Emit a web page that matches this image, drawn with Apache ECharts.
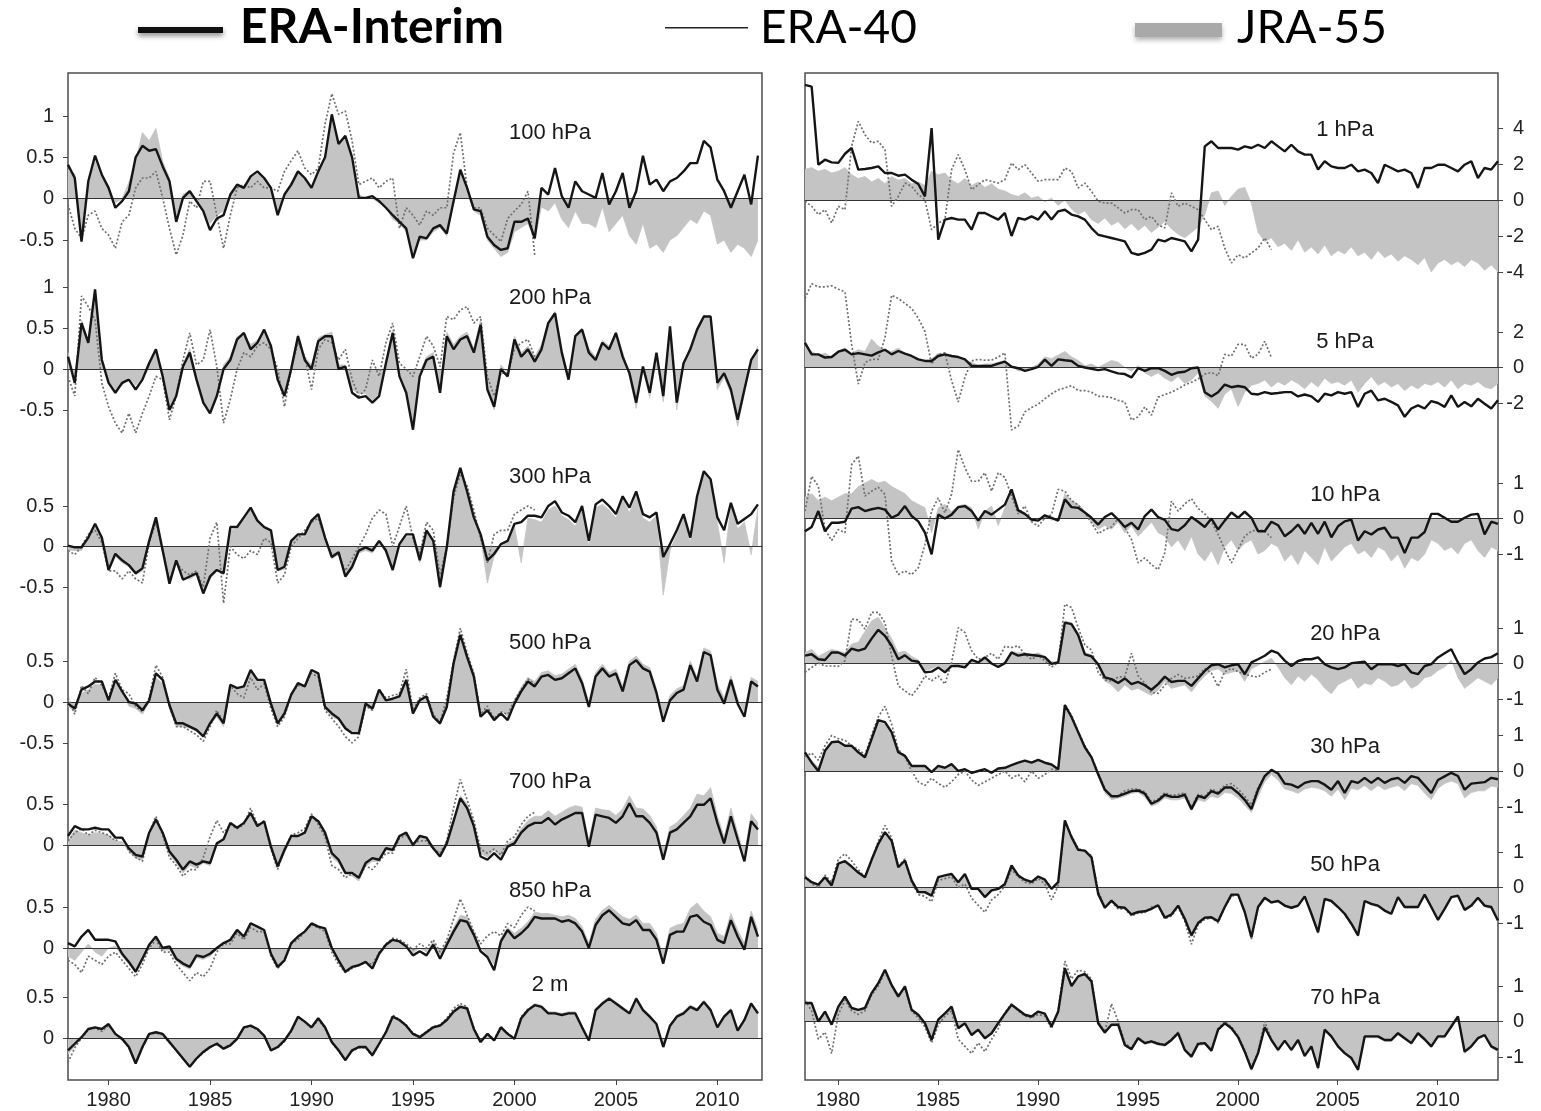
<!DOCTYPE html>
<html>
<head>
<meta charset="utf-8">
<title>Temperature anomalies: ERA-Interim, ERA-40, JRA-55</title>
<script src="https://cdn.jsdelivr.net/npm/echarts@6/dist/echarts.min.js"></script>
<style>
  html, body { margin: 0; padding: 0; background: #fff; }
  #chart { width: 1541px; height: 1111px; }
</style>
</head>
<body>
<div id="chart"></div>
<script>
// samples every 4 months
// left column (troposphere), first sample at 1978.0
var erai100 = [0.41,0.25,-0.52,0.21,0.52,0.29,0.13,-0.11,-0.03,0.09,0.5,0.64,0.58,0.6,0.39,0.21,-0.28,0.01,0.09,-0.03,-0.15,-0.38,-0.24,-0.2,0.05,0.17,0.13,0.27,0.33,0.25,0.13,-0.2,0.05,0.17,0.33,0.25,0.13,0.33,0.5,1.02,0.66,0.76,0.5,0.01,0.01,0.03,-0.03,-0.11,-0.2,-0.28,-0.36,-0.72,-0.46,-0.48,-0.36,-0.32,-0.42,-0.03,0.35,0.13,-0.13,-0.15,-0.46,-0.56,-0.62,-0.6,-0.28,-0.28,-0.24,-0.48,0.13,0.05,0.37,0.03,-0.11,0.21,0.09,0.05,0.01,0.31,-0.07,0.09,0.31,-0.11,0.09,0.52,0.17,0.23,0.09,0.21,0.25,0.33,0.43,0.43,0.7,0.62,0.23,0.09,-0.11,0.09,0.29,-0.07,0.52];
var jra100 = [0.35,0.3,-0.4,0.15,0.45,0.3,0.15,-0.05,0.0,0.2,0.45,0.8,0.7,0.85,0.45,0.25,-0.2,0.05,0.1,-0.05,-0.15,-0.3,-0.2,-0.15,0.05,0.15,0.15,0.25,0.3,0.25,0.15,-0.15,0.05,0.2,0.3,0.25,0.15,0.3,0.45,0.95,0.65,0.75,0.5,0.05,0.0,0.0,-0.05,-0.1,-0.25,-0.3,-0.4,-0.65,-0.5,-0.5,-0.4,-0.35,-0.45,-0.05,0.3,0.1,-0.15,-0.2,-0.5,-0.6,-0.7,-0.65,-0.4,-0.35,-0.3,-0.5,-0.1,-0.15,-0.05,-0.25,-0.35,-0.15,-0.3,-0.3,-0.35,-0.1,-0.4,-0.3,-0.2,-0.45,-0.55,-0.3,-0.6,-0.55,-0.65,-0.5,-0.45,-0.35,-0.25,-0.3,-0.15,-0.2,-0.55,-0.5,-0.65,-0.55,-0.6,-0.7,-0.5];
var era40_100 = [-0.07,-0.36,-0.48,-0.2,-0.15,-0.36,-0.44,-0.6,-0.28,-0.2,0.13,0.25,0.25,0.33,0.01,-0.36,-0.68,-0.44,-0.03,-0.11,0.21,0.21,-0.2,-0.6,-0.2,0.13,0.17,0.13,0.21,0.13,0.13,0.09,0.33,0.46,0.58,0.37,0.29,0.37,0.9,1.27,1.02,1.06,0.7,0.17,0.21,0.25,0.13,0.21,0.25,-0.36,-0.11,-0.2,-0.32,-0.15,-0.2,-0.11,-0.11,0.55,0.8,0.13,-0.11,-0.11,-0.36,-0.44,-0.52,-0.24,-0.15,-0.07,0.09,-0.68];

var erai200 = [0.15,-0.17,0.56,0.32,0.97,0.11,-0.17,-0.29,-0.17,-0.13,-0.25,-0.13,0.07,0.24,-0.09,-0.5,-0.33,0.03,0.2,-0.13,-0.41,-0.54,-0.33,0.0,0.11,0.36,0.44,0.24,0.32,0.48,0.28,-0.13,-0.33,0.0,0.4,0.11,0.0,0.34,0.4,0.4,0.0,0.03,-0.29,-0.35,-0.33,-0.41,-0.33,0.07,0.44,-0.09,-0.29,-0.74,-0.09,0.11,0.15,-0.29,0.4,0.24,0.36,0.4,0.2,0.54,-0.25,-0.46,0.0,-0.09,0.36,0.15,0.24,0.09,0.24,0.56,0.68,0.2,-0.13,0.4,0.48,0.2,0.11,0.32,0.24,0.44,0.15,-0.05,-0.41,0.03,-0.29,0.2,-0.33,0.52,-0.41,0.07,0.24,0.48,0.64,0.64,-0.17,-0.05,-0.25,-0.62,-0.25,0.11,0.24];
var jra200 = [0.2,-0.1,0.6,0.35,0.9,0.15,-0.15,-0.25,-0.2,-0.1,-0.2,-0.1,0.1,0.2,-0.05,-0.45,-0.3,0.05,0.25,-0.1,-0.4,-0.5,-0.3,0.05,0.15,0.4,0.4,0.3,0.35,0.45,0.3,-0.1,-0.3,0.05,0.42,0.15,0.05,0.38,0.42,0.45,0.05,0.05,-0.25,-0.3,-0.3,-0.38,-0.3,0.1,0.48,-0.05,-0.25,-0.7,-0.05,0.15,0.2,-0.25,0.45,0.3,0.4,0.45,0.25,0.6,-0.2,-0.5,0.05,-0.05,0.4,0.2,0.28,0.15,0.3,0.58,0.7,0.25,-0.1,0.42,0.5,0.25,0.15,0.35,0.28,0.45,0.2,-0.1,-0.48,0.0,-0.35,0.15,-0.4,0.48,-0.5,0.05,0.28,0.5,0.66,0.6,-0.25,-0.1,-0.3,-0.7,-0.3,0.1,0.28];
var era40_200 = [-0.09,-0.33,0.89,0.76,0.6,-0.17,-0.46,-0.66,-0.78,-0.54,-0.78,-0.54,-0.33,-0.09,-0.13,-0.62,-0.33,0.11,0.44,0.05,0.11,0.48,0.03,-0.66,-0.37,0.0,0.2,0.15,0.28,0.32,0.24,0.0,-0.46,0.0,0.32,0.15,-0.25,0.24,0.36,0.32,0.11,0.24,-0.13,-0.33,-0.25,0.11,-0.09,0.32,0.56,0.07,0.0,-0.09,0.15,0.4,0.28,0.03,0.64,0.6,0.72,0.76,0.56,0.64,-0.09,-0.33,-0.05,-0.05,0.24,0.32,0.36,0.15];

var erai300 = [0.01,-0.01,-0.01,0.11,0.28,0.11,-0.29,-0.09,-0.17,-0.23,-0.33,-0.27,0.07,0.36,-0.05,-0.46,-0.17,-0.41,-0.37,-0.33,-0.58,-0.37,-0.29,-0.33,0.24,0.24,0.36,0.48,0.32,0.24,0.2,-0.29,-0.25,0.07,0.15,0.15,0.32,0.4,0.11,-0.13,-0.07,-0.37,-0.25,-0.05,-0.01,-0.05,0.07,-0.05,-0.29,0.03,0.15,0.15,-0.17,0.2,0.07,-0.5,-0.01,0.68,0.97,0.68,0.36,0.15,-0.17,-0.09,0.03,0.07,0.28,0.3,0.38,0.38,0.36,0.5,0.56,0.42,0.38,0.3,0.5,0.07,0.52,0.58,0.5,0.4,0.62,0.48,0.68,0.4,0.36,0.42,-0.13,0.03,0.2,0.4,0.11,0.62,0.93,0.83,0.36,0.2,0.54,0.28,0.34,0.4,0.52];
var jra300 = [-0.05,-0.05,-0.05,0.1,0.25,0.1,-0.3,-0.12,-0.2,-0.25,-0.35,-0.3,0.05,0.35,-0.08,-0.45,-0.2,-0.4,-0.4,-0.35,-0.55,-0.4,-0.3,-0.35,0.2,0.22,0.33,0.45,0.3,0.22,0.18,-0.3,-0.28,0.05,0.12,0.12,0.3,0.38,0.1,-0.15,-0.1,-0.38,-0.28,-0.08,-0.05,-0.08,0.05,-0.08,-0.3,0.0,0.12,0.12,-0.2,0.18,0.05,-0.52,-0.05,0.65,0.95,0.65,0.33,0.12,-0.45,-0.12,0.0,0.05,0.25,-0.2,0.35,0.33,0.3,0.45,0.5,0.38,0.33,0.25,0.45,0.0,0.48,0.52,0.45,0.35,0.58,0.42,0.62,0.35,0.3,0.38,-0.6,-0.05,0.15,0.35,0.05,0.58,0.9,0.8,0.3,-0.2,0.5,0.22,0.3,-0.1,0.48];
var era40_300 = [-0.05,-0.1,0.0,0.15,0.2,0.05,-0.3,-0.3,-0.4,-0.3,-0.4,-0.45,0.05,0.3,-0.05,-0.4,-0.2,-0.3,-0.35,-0.3,-0.5,0.1,0.3,-0.7,0.0,-0.1,-0.15,-0.05,-0.1,0.1,0.05,-0.45,-0.35,0.0,0.1,0.2,0.3,0.35,0.1,-0.1,-0.1,-0.3,-0.15,0.0,0.15,0.35,0.45,0.4,0.0,0.25,0.5,0.1,-0.1,0.3,0.2,-0.35,0.0,0.6,0.9,0.75,0.45,0.1,-0.2,0.15,0.2,0.2,0.4,0.45,0.5,0.45];

var erai500 = [-0.02,-0.08,0.15,0.19,0.25,0.25,0.02,0.27,0.13,0.0,-0.02,-0.1,0.02,0.35,0.27,-0.04,-0.26,-0.26,-0.3,-0.34,-0.42,-0.26,-0.14,-0.26,0.21,0.17,0.19,0.39,0.27,0.27,-0.02,-0.26,-0.14,0.09,0.23,0.19,0.39,0.35,-0.06,-0.14,-0.2,-0.32,-0.38,-0.38,-0.02,-0.08,0.15,0.02,0.04,0.07,0.27,-0.14,0.02,0.07,-0.18,-0.26,-0.06,0.47,0.82,0.55,0.31,-0.18,-0.1,-0.22,-0.14,-0.22,-0.02,0.13,0.25,0.19,0.31,0.33,0.27,0.29,0.35,0.41,0.23,-0.06,0.31,0.41,0.31,0.35,0.13,0.45,0.51,0.41,0.37,0.11,-0.24,0.02,0.11,0.15,0.45,0.25,0.61,0.57,0.15,-0.02,0.27,-0.02,-0.18,0.25,0.19];
var jra500 = [-0.05,-0.12,0.1,0.15,0.22,0.2,0.0,0.22,0.1,-0.05,-0.08,-0.15,0.0,0.3,0.22,-0.08,-0.3,-0.3,-0.32,-0.36,-0.4,-0.28,-0.18,-0.3,0.18,0.15,0.18,0.36,0.25,0.25,-0.05,-0.28,-0.15,0.08,0.22,0.18,0.36,0.33,-0.08,-0.18,-0.22,-0.34,-0.36,-0.4,-0.05,-0.1,0.12,0.0,0.02,0.05,0.25,-0.15,0.0,0.05,-0.2,-0.28,-0.08,0.5,0.8,0.58,0.35,-0.15,-0.08,-0.2,-0.1,-0.18,0.02,0.18,0.3,0.25,0.36,0.38,0.32,0.34,0.4,0.46,0.28,0.0,0.36,0.46,0.36,0.4,0.2,0.5,0.56,0.46,0.42,0.16,-0.18,0.08,0.16,0.2,0.5,0.3,0.66,0.62,0.22,0.05,0.32,0.04,-0.12,0.3,0.25];
var era40_500 = [0.05,-0.15,0.2,0.1,0.3,0.2,0.05,0.35,0.15,0.1,-0.05,-0.12,0.05,0.45,0.3,-0.05,-0.3,-0.3,-0.35,-0.4,-0.48,-0.3,-0.1,-0.25,0.2,0.1,0.05,0.3,0.15,0.22,-0.08,-0.3,-0.18,0.1,0.2,0.2,0.35,0.3,-0.1,-0.2,-0.3,-0.42,-0.5,-0.42,-0.05,-0.1,0.15,0.05,0.08,0.1,0.4,-0.1,0.05,0.1,-0.15,-0.25,0.05,0.5,0.9,0.6,0.35,-0.15,-0.05,-0.2,-0.12,-0.15,0.02,0.15,0.28,0.22];

var erai700 = [0.11,0.23,0.19,0.19,0.21,0.19,0.19,0.09,0.09,-0.04,-0.12,-0.14,0.15,0.31,0.15,-0.08,-0.18,-0.3,-0.2,-0.24,-0.2,-0.22,0.02,0.07,0.27,0.21,0.27,0.39,0.23,0.29,-0.02,-0.26,-0.06,0.11,0.11,0.15,0.35,0.29,0.15,-0.1,-0.18,-0.34,-0.34,-0.4,-0.22,-0.16,-0.18,-0.04,-0.06,0.11,0.15,0.0,0.11,0.09,-0.04,-0.14,0.02,0.29,0.57,0.45,0.23,-0.14,-0.18,-0.1,-0.18,-0.02,0.02,0.15,0.23,0.27,0.27,0.33,0.25,0.31,0.35,0.39,0.39,-0.02,0.37,0.35,0.33,0.27,0.35,0.51,0.35,0.35,0.27,0.15,-0.18,0.15,0.19,0.27,0.35,0.49,0.49,0.57,0.27,0.02,0.35,0.07,-0.2,0.29,0.19];
var jra700 = [0.05,0.18,0.15,0.12,0.15,0.14,0.12,0.05,0.04,-0.08,-0.16,-0.18,0.1,0.28,0.12,-0.12,-0.22,-0.34,-0.25,-0.28,-0.22,-0.25,0.0,0.05,0.25,0.2,0.25,0.36,0.22,0.27,-0.05,-0.28,-0.1,0.08,0.1,0.14,0.33,0.27,0.12,-0.15,-0.22,-0.36,-0.38,-0.44,-0.26,-0.2,-0.2,-0.06,-0.08,0.1,0.14,-0.02,0.1,0.1,-0.02,-0.12,0.05,0.32,0.6,0.5,0.28,-0.1,-0.15,-0.06,-0.14,0.02,0.06,0.2,0.3,0.35,0.35,0.42,0.35,0.4,0.45,0.48,0.46,0.05,0.45,0.43,0.42,0.36,0.44,0.6,0.45,0.44,0.36,0.22,-0.12,0.22,0.27,0.36,0.45,0.62,0.6,0.7,0.36,0.1,0.45,0.15,-0.12,0.38,0.27];
var era40_700 = [0.05,0.15,0.2,0.12,0.18,0.15,0.12,0.05,0.1,-0.08,-0.15,-0.2,0.15,0.35,0.12,-0.15,-0.25,-0.38,-0.3,-0.3,-0.15,0.1,0.3,0.15,0.25,0.2,0.25,0.45,0.25,0.28,-0.05,-0.3,-0.05,0.12,0.15,0.2,0.38,0.25,0.1,-0.25,-0.3,-0.4,-0.35,-0.4,-0.25,-0.3,-0.2,-0.1,-0.1,0.08,0.12,0.02,0.05,0.05,-0.05,-0.1,0.05,0.45,0.8,0.55,0.3,-0.05,-0.1,-0.05,-0.12,0.05,0.1,0.25,0.35,0.4];

var erai850 = [0.06,0.02,0.14,0.22,0.1,0.1,0.1,0.08,-0.07,-0.17,-0.29,-0.13,0.04,0.14,0.0,0.02,-0.13,-0.19,-0.23,-0.09,-0.11,-0.07,0.0,0.06,0.1,0.22,0.14,0.3,0.26,0.22,-0.07,-0.23,-0.15,0.06,0.14,0.2,0.3,0.26,0.24,0.0,-0.15,-0.29,-0.23,-0.21,-0.17,-0.25,-0.07,0.04,0.1,0.08,0.02,-0.09,-0.04,-0.09,0.04,-0.13,0.04,0.2,0.34,0.32,0.16,-0.04,-0.11,-0.27,0.08,0.22,0.12,0.18,0.26,0.38,0.36,0.36,0.36,0.32,0.34,0.3,0.2,0.0,0.28,0.4,0.46,0.38,0.3,0.28,0.34,0.22,0.22,0.1,-0.19,0.16,0.2,0.2,0.38,0.4,0.32,0.28,0.1,0.06,0.34,0.14,-0.02,0.38,0.14];
var jra850 = [-0.1,-0.15,-0.05,0.05,-0.05,-0.1,0.0,0.02,-0.1,-0.2,-0.3,-0.15,0.0,0.1,-0.03,-0.02,-0.16,-0.22,-0.26,-0.12,-0.14,-0.1,-0.02,0.03,0.08,0.2,0.12,0.27,0.24,0.2,-0.08,-0.25,-0.17,0.04,0.12,0.18,0.28,0.25,0.22,-0.02,-0.17,-0.3,-0.25,-0.22,-0.18,-0.26,-0.08,0.03,0.1,0.08,0.04,-0.06,0.0,-0.05,0.08,-0.08,0.08,0.25,0.4,0.38,0.2,0.0,-0.08,-0.2,0.12,0.25,0.18,0.24,0.32,0.44,0.42,0.42,0.4,0.38,0.4,0.36,0.26,0.06,0.35,0.46,0.52,0.45,0.38,0.35,0.4,0.3,0.3,0.18,-0.12,0.24,0.28,0.3,0.48,0.55,0.45,0.38,0.18,0.14,0.42,0.22,0.06,0.45,0.22];
var era40_850 = [-0.15,-0.2,-0.3,-0.1,-0.15,-0.2,-0.1,-0.05,-0.15,-0.25,-0.35,-0.2,0.0,0.1,-0.05,-0.05,-0.2,-0.3,-0.4,-0.3,-0.35,-0.25,-0.05,0.05,0.05,0.18,0.1,0.25,0.2,0.2,-0.1,-0.25,-0.15,0.05,0.1,0.2,0.28,0.25,0.2,-0.05,-0.2,-0.3,-0.25,-0.2,-0.18,-0.2,-0.05,0.05,0.12,0.1,0.05,-0.02,0.05,0.0,0.1,-0.05,0.1,0.35,0.6,0.4,0.2,0.05,0.15,0.2,0.15,0.3,0.25,0.4,0.5,0.45];

var erai2m = [-0.15,-0.07,0.01,0.11,0.13,0.11,0.17,0.05,-0.01,-0.11,-0.31,-0.11,0.05,0.07,0.05,-0.05,-0.15,-0.25,-0.35,-0.25,-0.17,-0.11,-0.07,-0.13,-0.09,-0.01,0.13,0.15,0.11,0.03,-0.15,-0.11,-0.03,0.09,0.26,0.2,0.13,0.24,0.13,-0.05,-0.15,-0.27,-0.15,-0.11,-0.11,-0.21,-0.07,0.07,0.26,0.22,0.15,0.05,0.01,0.07,0.13,0.15,0.22,0.32,0.38,0.36,0.11,-0.05,0.05,-0.03,0.13,0.05,-0.01,0.24,0.34,0.4,0.38,0.3,0.3,0.28,0.3,0.3,0.13,-0.03,0.34,0.42,0.48,0.42,0.36,0.3,0.48,0.34,0.26,0.17,-0.11,0.15,0.26,0.3,0.38,0.34,0.44,0.34,0.13,0.26,0.34,0.09,0.22,0.42,0.3];
var jra2m = [-0.2,-0.1,0.0,0.1,0.12,0.1,0.15,0.04,-0.03,-0.12,-0.3,-0.12,0.04,0.06,0.04,-0.06,-0.16,-0.26,-0.34,-0.26,-0.18,-0.12,-0.08,-0.14,-0.1,-0.02,0.12,0.14,0.1,0.02,-0.16,-0.12,-0.04,0.08,0.25,0.2,0.12,0.23,0.12,-0.06,-0.16,-0.28,-0.16,-0.12,-0.12,-0.22,-0.08,0.06,0.27,0.23,0.16,0.06,0.02,0.08,0.14,0.16,0.23,0.34,0.4,0.38,0.12,-0.04,0.06,-0.02,0.14,0.06,0.0,0.25,0.35,0.42,0.4,0.32,0.32,0.3,0.32,0.32,0.15,-0.02,0.36,0.44,0.5,0.44,0.38,0.32,0.5,0.36,0.28,0.18,-0.1,0.16,0.28,0.32,0.4,0.36,0.46,0.36,0.15,0.28,0.36,0.1,0.24,0.44,0.32];
var era40_2m = [-0.3,-0.12,0.0,0.1,0.12,0.08,0.15,0.05,-0.02,-0.12,-0.3,-0.12,0.05,0.06,0.04,-0.06,-0.15,-0.25,-0.35,-0.25,-0.18,-0.12,-0.06,-0.12,-0.08,0.0,0.12,0.14,0.1,0.02,-0.15,-0.12,-0.04,0.08,0.25,0.2,0.12,0.22,0.12,-0.06,-0.16,-0.27,-0.16,-0.12,-0.12,-0.22,-0.08,0.08,0.28,0.22,0.16,0.06,0.02,0.08,0.14,0.16,0.24,0.36,0.42,0.38,0.12,-0.04,0.06,-0.02,0.14,0.06,0.0,0.26,0.35,0.4];

// right column (stratosphere), first sample at 1978.35
var erai1 = [6.4,6.3,1.96,2.24,2.09,2.06,2.57,2.89,1.69,1.72,1.78,1.87,1.5,1.5,1.35,1.41,1.13,0.89,0.2,4.0,-2.2,-1.09,-1.0,-1.09,-1.09,-1.65,-0.72,-0.72,-0.91,-1.09,-0.72,-2.0,-1.0,-1.09,-0.91,-1.09,-0.63,-1.09,-0.63,-0.54,-0.81,-0.91,-1.09,-1.56,-1.93,-2.02,-2.11,-2.2,-2.3,-2.94,-3.04,-2.94,-2.76,-2.2,-2.3,-2.11,-2.2,-2.3,-2.85,-2.2,2.98,3.26,2.89,2.89,2.89,2.8,2.98,2.89,3.07,2.89,3.26,2.98,2.7,3.07,2.7,2.52,2.52,1.69,2.15,1.87,1.78,1.78,1.96,1.59,1.69,1.5,0.94,1.96,1.78,1.59,1.69,1.5,0.67,1.78,1.78,1.96,1.96,1.78,1.59,1.96,2.15,1.22,1.78,1.69,2.15];
var jra1 = [1.7,1.8,1.6,1.7,1.5,1.6,1.8,1.4,1.2,1.3,1.0,1.2,0.9,1.3,1.1,1.2,0.9,1.0,0.8,1.6,1.4,1.5,1.1,0.9,1.2,0.8,1.0,0.7,0.9,0.6,0.5,0.3,0.2,0.4,0.1,0.2,-0.1,0.1,-0.3,0.0,-0.5,-0.8,-0.6,-1.1,-1.3,-1.0,-1.4,-1.2,-1.6,-1.3,-1.7,-1.4,-1.8,-1.5,-1.2,-1.6,-1.9,-2.1,-1.8,-1.5,-0.8,0.4,0.5,-0.3,0.2,0.6,0.7,-0.2,-1.8,-2.3,-2.1,-2.6,-2.4,-2.8,-2.2,-2.9,-2.6,-3.0,-2.5,-3.1,-2.8,-3.0,-2.6,-3.1,-2.9,-3.3,-2.8,-3.2,-3.0,-3.4,-3.1,-3.3,-3.6,-3.2,-4.0,-3.5,-3.3,-3.6,-3.4,-3.7,-3.3,-3.5,-3.9,-3.6,-4.0];
var era40_1 = [-0.07,-0.35,-0.81,-0.54,-1.28,-0.35,-0.54,2.98,4.37,3.63,3.17,3.26,2.8,-0.35,0.2,0.94,0.76,0.3,0.02,-1.65,-1.28,-1.09,1.69,2.52,1.69,0.57,0.85,1.13,1.04,0.94,1.13,2.06,1.69,1.96,1.5,1.04,1.13,1.13,1.13,1.78,1.59,0.67,0.94,0.48,-0.07,-0.17,-0.17,-0.44,-0.72,-0.54,-0.54,-1.09,-0.91,-1.37,-1.56,0.39,-0.35,-0.17,-0.35,-0.54,-1.09,-1.65,-1.46,-2.67,-3.5,-3.04,-3.22,-2.94,-2.67,-2.11,-2.76];

var erai5 = [1.39,0.74,0.74,0.56,0.59,0.89,1.0,0.74,0.81,0.74,0.67,0.85,1.0,0.74,0.93,0.78,0.65,0.46,0.37,0.37,0.65,0.74,0.65,0.59,0.46,0.09,0.09,0.09,0.09,0.22,0.33,0.04,-0.04,-0.19,-0.09,0.04,0.44,0.09,0.46,0.41,0.37,0.09,0.0,-0.07,-0.15,-0.09,-0.22,-0.33,-0.37,-0.56,-0.04,-0.19,-0.04,-0.04,-0.19,-0.41,-0.28,-0.24,-0.04,0.0,-1.39,-1.63,-1.39,-0.96,-1.11,-1.04,-1.11,-1.48,-1.52,-1.39,-1.48,-1.44,-1.39,-1.39,-1.63,-1.52,-1.63,-1.94,-1.48,-1.57,-1.39,-1.48,-1.39,-2.22,-1.48,-1.3,-1.85,-1.76,-1.94,-2.13,-2.78,-2.31,-2.13,-2.31,-1.89,-2.0,-2.22,-1.57,-2.22,-1.94,-2.19,-1.76,-2.04,-2.31,-1.85];
var jra5 = [1.2,0.9,0.7,0.8,0.6,0.9,1.1,0.8,1.0,0.9,1.6,1.2,1.0,0.9,1.1,0.8,0.6,0.5,0.3,0.5,0.8,0.6,0.7,0.5,0.4,0.3,0.1,0.2,0.2,0.3,0.4,0.1,-0.2,-0.1,0.0,0.2,0.6,0.5,0.7,0.9,0.6,0.4,0.1,0.2,0.0,0.2,0.4,0.3,0.0,-0.2,0.1,-0.3,-0.5,-0.3,-0.6,-0.8,-0.5,-0.9,-0.7,-0.3,-1.6,-1.9,-2.3,-1.5,-1.2,-2.2,-1.4,-1.0,-0.9,-0.7,-1.1,-0.8,-1.0,-0.7,-0.9,-1.2,-0.8,-1.1,-0.6,-0.9,-0.8,-1.0,-0.7,-1.4,-0.9,-0.5,-1.0,-0.8,-1.1,-0.9,-1.3,-1.0,-1.2,-0.9,-1.0,-0.8,-1.1,-0.7,-1.2,-0.9,-1.0,-0.8,-1.1,-1.2,-0.9];
var era40_5 = [3.89,4.72,4.54,4.54,4.6,4.41,4.26,1.3,-0.93,0.28,0.46,0.46,1.67,4.07,3.89,3.61,3.33,2.78,2.04,0.19,0.74,0.83,-0.74,-1.94,-0.56,0.37,0.46,0.41,0.41,0.59,0.83,-3.52,-3.3,-2.5,-2.26,-2.07,-1.76,-1.48,-1.26,-1.15,-1.02,-1.3,-1.3,-1.39,-1.63,-1.63,-1.7,-1.85,-1.94,-2.96,-2.78,-2.22,-2.69,-1.67,-1.52,-1.39,-1.2,-0.98,-0.83,-0.65,-0.37,-0.28,-0.46,0.74,0.65,1.3,1.3,0.52,0.74,1.48,0.56];

var erai10 = [-0.36,-0.24,0.21,-0.36,-0.12,-0.12,-0.09,0.28,0.32,0.21,0.26,0.3,0.25,0.02,0.11,0.35,0.07,-0.08,-0.4,-1.01,0.11,0.0,0.11,0.32,0.35,0.21,-0.06,0.21,0.11,0.25,0.39,0.82,0.23,0.13,-0.03,-0.06,0.09,0.02,-0.06,0.54,0.32,0.3,0.17,0.02,-0.17,0.04,0.15,-0.03,-0.24,-0.12,-0.31,0.07,0.25,0.04,-0.04,-0.3,-0.34,-0.19,0.04,-0.09,-0.24,0.0,-0.31,-0.06,0.17,0.02,0.19,0.02,-0.36,-0.36,-0.09,-0.19,-0.5,-0.36,-0.17,-0.43,-0.12,-0.43,-0.09,-0.53,-0.22,-0.08,-0.03,-0.62,-0.36,-0.45,-0.31,-0.26,-0.54,-0.54,-0.97,-0.54,-0.54,-0.38,0.13,0.13,0.02,-0.09,-0.09,0.02,0.11,0.13,-0.45,-0.09,-0.15];
var jra10 = [0.6,0.7,0.5,0.6,0.5,0.6,0.7,0.7,0.9,1.0,1.1,1.0,1.05,0.9,0.8,0.7,0.5,0.4,0.3,-0.4,0.3,0.4,0.2,0.35,0.4,0.3,-0.3,0.2,0.35,-0.2,0.3,0.7,0.2,0.1,-0.1,0.0,0.1,-0.05,0.0,0.7,0.5,0.4,0.2,-0.1,-0.3,-0.2,-0.3,-0.1,-0.4,-0.2,-0.5,-0.3,-0.1,-0.4,-0.5,-0.8,-0.6,-0.9,-0.5,-1.0,-1.2,-0.9,-1.3,-0.8,-0.6,-0.9,-0.7,-0.6,-1.0,-0.9,-0.7,-0.8,-1.2,-1.0,-1.3,-0.9,-1.1,-1.3,-0.8,-1.2,-1.0,-0.8,-0.7,-1.0,-0.9,-1.1,-0.8,-0.9,-1.2,-1.0,-1.4,-1.1,-1.2,-1.0,-0.6,-0.7,-0.9,-0.8,-1.0,-0.7,-0.6,-0.9,-1.1,-0.8,-0.9];
var era40_10 = [0.21,1.19,0.91,-0.31,-0.62,-0.31,-0.4,1.52,1.76,0.63,0.77,0.88,0.68,-1.2,-1.58,-1.48,-1.58,-1.39,-0.73,0.21,0.58,0.16,0.68,1.94,1.43,1.05,1.05,1.29,0.77,1.29,1.16,0.63,0.13,0.35,-0.09,-0.22,0.02,0.11,0.82,0.77,0.51,0.38,0.16,-0.12,-0.43,-0.31,-0.24,0.0,-0.26,-0.59,-1.25,-1.11,-1.3,-1.44,-0.97,0.49,0.21,0.41,0.56,0.28,0.13,-0.09,-0.45,-0.87,-1.25,-0.87,-0.5,-0.36,-0.31,-0.36,-0.54];

var erai20 = [0.22,0.26,0.12,0.1,0.31,0.31,0.22,0.42,0.36,0.42,0.7,0.95,0.78,0.5,0.12,0.23,0.08,0.05,-0.25,-0.23,-0.11,-0.25,-0.07,-0.07,-0.11,0.1,0.03,0.17,0.0,-0.1,0.01,0.31,0.22,0.26,0.24,0.22,0.18,-0.01,0.03,1.15,1.11,0.8,0.26,0.2,-0.02,-0.39,-0.44,-0.55,-0.42,-0.58,-0.52,-0.61,-0.74,-0.58,-0.37,-0.52,-0.49,-0.49,-0.63,-0.42,-0.21,-0.05,-0.02,-0.11,-0.05,-0.02,-0.3,0.03,0.12,0.22,0.36,0.29,0.08,-0.07,0.07,0.12,0.12,0.17,-0.02,-0.11,-0.16,-0.11,0.01,0.03,0.05,-0.16,-0.02,-0.02,-0.02,-0.07,-0.02,-0.25,-0.3,-0.07,-0.02,0.17,0.29,0.4,0.03,-0.3,-0.16,0.03,0.14,0.18,0.29];
var jra20 = [0.3,0.4,0.2,0.3,0.4,0.35,0.3,0.55,0.6,0.9,1.2,1.3,1.0,0.7,0.3,0.35,0.2,0.1,-0.2,-0.15,-0.05,-0.2,0.0,-0.05,-0.1,0.1,0.05,0.15,0.0,-0.1,0.05,0.35,0.3,0.3,0.25,0.3,0.2,0.05,0.05,1.2,1.15,0.85,0.3,0.25,-0.1,-0.5,-0.6,-0.8,-0.6,-0.75,-0.7,-0.8,-0.9,-0.75,-0.5,-0.7,-0.65,-0.6,-0.8,-0.55,-0.35,-0.2,-0.15,-0.3,-0.25,-0.2,-0.5,-0.15,-0.05,0.05,0.15,-0.1,-0.4,-0.6,-0.35,-0.5,-0.3,-0.45,-0.7,-0.85,-0.6,-0.5,-0.4,-0.7,-0.55,-0.6,-0.4,-0.5,-0.65,-0.6,-0.45,-0.7,-0.6,-0.4,-0.35,-0.2,-0.1,0.1,-0.4,-0.7,-0.55,-0.4,-0.5,-0.6,-0.4];
var era40_20 = [-0.25,-0.11,0.01,-0.07,-0.07,-0.08,0.08,1.25,1.23,0.97,1.44,1.44,1.15,0.22,-0.63,-0.77,-0.91,-0.68,-0.35,-0.49,-0.35,-0.58,0.03,1.01,0.87,0.36,0.12,0.17,0.29,0.12,0.48,0.45,0.5,0.26,0.12,0.23,0.08,-0.1,0.03,1.67,1.58,1.01,0.52,0.38,-0.25,-0.46,-0.5,-0.38,-0.37,0.29,-0.35,-0.55,-0.82,-0.84,-0.61,-0.42,-0.31,-0.42,-0.39,-0.35,-0.14,-0.27,-0.65,-0.23,-0.14,-0.23,-0.31,-0.35,-0.38,-0.25,-0.16];

var erai30 = [0.52,0.23,0.0,0.56,0.8,0.82,0.7,0.7,0.52,0.38,0.89,1.41,1.36,1.08,0.52,0.42,0.14,0.14,0.14,-0.03,0.14,0.09,0.19,0.0,0.05,-0.05,0.0,0.05,-0.05,0.07,0.09,0.16,0.23,0.29,0.23,0.31,0.23,0.18,0.05,1.83,1.5,1.08,0.66,0.38,-0.09,-0.52,-0.7,-0.7,-0.63,-0.56,-0.54,-0.63,-0.91,-0.82,-0.66,-0.72,-0.72,-0.66,-1.06,-0.69,-0.75,-0.56,-0.63,-0.46,-0.46,-0.61,-0.8,-1.06,-0.52,-0.14,0.03,-0.07,-0.35,-0.38,-0.46,-0.33,-0.28,-0.28,-0.38,-0.52,-0.28,-0.61,-0.28,-0.33,-0.19,-0.33,-0.19,-0.33,-0.23,-0.19,-0.33,-0.14,-0.19,-0.4,-0.61,-0.25,-0.15,-0.05,-0.14,-0.52,-0.35,-0.33,-0.31,-0.19,-0.23];
var jra30 = [0.45,0.3,0.1,0.5,0.75,0.78,0.72,0.65,0.5,0.4,0.85,1.35,1.3,1.05,0.55,0.45,0.15,0.1,0.12,0.0,0.12,0.05,0.15,-0.02,0.02,-0.08,-0.02,0.02,-0.06,0.05,0.08,0.15,0.2,0.25,0.2,0.28,0.2,0.15,0.02,1.8,1.45,1.05,0.62,0.35,-0.15,-0.6,-0.8,-0.75,-0.7,-0.62,-0.6,-0.72,-0.98,-0.9,-0.75,-0.8,-0.8,-0.75,-1.1,-0.8,-0.85,-0.7,-0.75,-0.6,-0.62,-0.75,-0.95,-1.15,-0.7,-0.3,-0.1,-0.25,-0.5,-0.55,-0.62,-0.5,-0.45,-0.48,-0.55,-0.7,-0.5,-0.8,-0.48,-0.52,-0.4,-0.55,-0.4,-0.52,-0.45,-0.4,-0.55,-0.35,-0.4,-0.62,-0.8,-0.48,-0.35,-0.28,-0.35,-0.75,-0.6,-0.55,-0.55,-0.42,-0.45];
var era40_30 = [0.4,0.5,0.3,0.7,0.99,0.9,0.85,0.7,0.6,0.45,1.0,1.5,1.8,1.3,0.6,0.4,0.0,-0.3,-0.4,-0.2,-0.35,-0.45,-0.3,-0.1,0.0,-0.25,-0.4,-0.3,-0.2,-0.1,0.0,-0.2,-0.1,-0.3,0.0,-0.2,-0.1,0.05,0.0,1.85,1.55,1.1,0.7,0.4,-0.05,-0.5,-0.72,-0.68,-0.55,-0.5,-0.5,-0.58,-0.85,-0.78,-0.6,-0.68,-0.65,-0.6,-1.0,-0.65,-0.7,-0.5,-0.58,-0.4,-0.35,-0.5,-0.7,-0.95,-0.45,-0.15,0.0];

var erai50 = [0.29,0.15,0.08,0.29,0.06,0.67,0.74,0.59,0.42,0.29,0.78,1.23,1.56,1.32,0.57,0.76,0.2,-0.13,-0.13,-0.23,0.29,0.34,0.38,0.15,0.38,-0.04,-0.04,-0.27,-0.08,-0.04,0.1,0.62,0.34,0.22,0.16,0.31,0.22,-0.04,0.15,1.89,1.42,1.06,1.04,0.85,-0.18,-0.57,-0.37,-0.55,-0.57,-0.76,-0.69,-0.67,-0.6,-0.5,-0.85,-0.76,-0.51,-0.88,-1.35,-1.0,-0.85,-0.84,-0.95,-0.55,-0.2,-0.2,-0.69,-1.4,-0.55,-0.29,-0.42,-0.38,-0.51,-0.57,-0.51,-0.25,-0.74,-1.26,-0.32,-0.38,-0.55,-0.74,-1.02,-1.35,-0.38,-0.46,-0.51,-0.65,-0.74,-0.27,-0.55,-0.55,-0.55,-0.2,-0.55,-0.91,-0.6,-0.27,-0.23,-0.63,-0.51,-0.29,-0.51,-0.55,-0.93];
var jra50 = [0.25,0.12,0.05,0.25,0.02,0.62,0.7,0.55,0.4,0.25,0.75,1.2,1.5,1.3,0.55,0.72,0.18,-0.15,-0.16,-0.25,0.25,0.3,0.35,0.12,0.35,-0.06,-0.06,-0.3,-0.1,-0.06,0.08,0.6,0.32,0.2,0.14,0.28,0.2,-0.06,0.12,1.85,1.4,1.04,1.02,0.82,-0.2,-0.6,-0.4,-0.58,-0.6,-0.8,-0.72,-0.7,-0.63,-0.53,-0.88,-0.8,-0.55,-0.92,-1.4,-1.05,-0.88,-0.88,-0.98,-0.58,-0.22,-0.22,-0.72,-1.45,-0.58,-0.32,-0.45,-0.4,-0.55,-0.6,-0.55,-0.28,-0.78,-1.3,-0.35,-0.4,-0.58,-0.78,-1.05,-1.38,-0.4,-0.5,-0.55,-0.68,-0.78,-0.3,-0.58,-0.58,-0.58,-0.22,-0.58,-0.95,-0.62,-0.3,-0.26,-0.66,-0.55,-0.32,-0.55,-0.6,-0.96];
var era40_50 = [0.35,0.1,0.0,0.35,0.15,0.8,0.95,0.75,0.5,0.3,0.75,1.3,1.75,1.4,0.6,0.8,0.15,-0.2,-0.25,-0.4,0.2,0.25,0.3,0.0,0.1,-0.3,-0.5,-0.7,-0.35,-0.2,0.05,0.5,0.3,0.15,0.1,0.25,0.1,-0.35,0.05,1.85,1.45,1.1,1.02,0.9,-0.1,-0.55,-0.4,-0.6,-0.6,-0.8,-0.72,-0.7,-0.55,-0.5,-0.88,-0.8,-0.55,-0.95,-1.6,-1.05,-0.9,-0.85,-1.0,-0.55,-0.25,-0.2,-0.7,-1.45,-0.55,-0.3,-0.4];

var erai70 = [0.52,0.52,0.0,0.28,-0.09,0.42,0.7,0.38,0.33,0.38,0.8,1.08,1.46,1.03,0.7,0.99,0.33,0.19,-0.05,-0.52,0.05,0.23,0.42,-0.19,-0.05,-0.38,-0.23,-0.47,-0.33,-0.05,0.22,0.47,0.33,0.19,0.14,0.28,0.22,-0.14,0.28,1.5,1.0,1.27,1.34,1.13,-0.05,-0.31,-0.09,-0.09,-0.66,-0.78,-0.47,-0.61,-0.56,-0.63,-0.66,-0.52,-0.33,-0.8,-0.99,-0.63,-0.61,-0.82,-0.23,-0.05,-0.19,-0.44,-0.85,-1.34,-0.89,-0.16,-0.52,-0.8,-0.54,-0.8,-0.52,-0.97,-0.7,-1.31,-0.23,-0.42,-0.7,-0.89,-1.03,-1.36,-0.42,-0.42,-0.42,-0.52,-0.52,-0.33,-0.47,-0.61,-0.33,-0.5,-0.7,-0.42,-0.42,-0.14,0.14,-0.85,-0.7,-0.47,-0.38,-0.7,-0.8];
var jra70 = [0.55,0.5,0.05,0.3,-0.05,0.4,0.68,0.38,0.3,0.35,0.78,1.05,1.42,1.0,0.7,0.95,0.3,0.15,-0.08,-0.5,0.02,0.2,0.38,-0.2,-0.08,-0.4,-0.25,-0.5,-0.35,-0.08,0.2,0.45,0.3,0.16,0.12,0.25,0.2,-0.15,0.25,1.48,1.0,1.25,1.32,1.1,-0.08,-0.35,-0.12,-0.12,-0.7,-0.8,-0.5,-0.65,-0.6,-0.66,-0.7,-0.56,-0.36,-0.84,-1.02,-0.68,-0.65,-0.85,-0.26,-0.08,-0.22,-0.48,-0.88,-1.38,-0.92,-0.2,-0.55,-0.84,-0.58,-0.84,-0.56,-1.0,-0.74,-1.35,-0.28,-0.46,-0.74,-0.92,-1.06,-1.4,-0.46,-0.46,-0.46,-0.56,-0.56,-0.38,-0.5,-0.65,-0.38,-0.55,-0.74,-0.46,-0.46,-0.18,0.1,-0.9,-0.74,-0.5,-0.42,-0.74,-0.85];
var era40_70 = [0.6,0.3,-0.5,-0.3,-0.9,0.2,0.6,0.3,0.2,0.3,0.75,1.0,1.4,1.0,0.75,0.95,0.3,0.1,-0.15,-0.6,-0.1,0.15,0.3,-0.5,-0.7,-0.9,-0.6,-0.85,-0.5,-0.2,0.25,0.5,0.3,0.15,0.1,0.2,0.15,-0.2,0.3,1.7,1.2,1.45,1.4,1.2,0.0,-0.3,0.5,0.0,-0.6,-0.75,-0.45,-0.6,-0.55,-0.6,-0.65,-0.5,-0.3,-0.8,-1.0,-0.6,-0.6,-0.8,-0.2,0.0,-0.15,-0.4,-0.8,-1.3,-0.85,0.0,-0.5];

var yearTicks = [1980, 1985, 1990, 1995, 2000, 2005, 2010];
var STEP = 1 / 3;
var LEFT_START = 1978.0, LEFT_MAX = 2012.2;
var RIGHT_START = 1978.35, RIGHT_MAX = 2013.02;

var leftPanels = [
  { label: '100 hPa', erai: erai100, era40: era40_100, jra: jra100, min: -0.5, max: 1, interval: 0.5, top: 116, height: 124, labelY: 133 },
  { label: '200 hPa', erai: erai200, era40: era40_200, jra: jra200, min: -0.5, max: 1, interval: 0.5, top: 287, height: 123, labelY: 298 },
  { label: '300 hPa', erai: erai300, era40: era40_300, jra: jra300, min: -0.5, max: 0.5, interval: 0.5, top: 506, height: 81, labelY: 477 },
  { label: '500 hPa', erai: erai500, era40: era40_500, jra: jra500, min: -0.5, max: 0.5, interval: 0.5, top: 661, height: 82, labelY: 643 },
  { label: '700 hPa', erai: erai700, era40: era40_700, jra: jra700, min: 0, max: 0.5, interval: 0.5, top: 804, height: 41, labelY: 782 },
  { label: '850 hPa', erai: erai850, era40: era40_850, jra: jra850, min: 0, max: 0.5, interval: 0.5, top: 907, height: 41, labelY: 891 },
  { label: '2 m', erai: erai2m, era40: era40_2m, jra: jra2m, min: 0, max: 0.5, interval: 0.5, top: 997, height: 41, labelY: 985 }
];
var rightPanels = [
  { label: '1 hPa', erai: erai1, era40: era40_1, jra: jra1, min: -4, max: 4, interval: 2, top: 128, height: 144, labelY: 130 },
  { label: '5 hPa', erai: erai5, era40: era40_5, jra: jra5, min: -2, max: 2, interval: 2, top: 332, height: 71, labelY: 342 },
  { label: '10 hPa', erai: erai10, era40: era40_10, jra: jra10, min: -1, max: 1, interval: 1, top: 483, height: 71, labelY: 495 },
  { label: '20 hPa', erai: erai20, era40: era40_20, jra: jra20, min: -1, max: 1, interval: 1, top: 628, height: 71, labelY: 634 },
  { label: '30 hPa', erai: erai30, era40: era40_30, jra: jra30, min: -1, max: 1, interval: 1, top: 735, height: 72, labelY: 747 },
  { label: '50 hPa', erai: erai50, era40: era40_50, jra: jra50, min: -1, max: 1, interval: 1, top: 852, height: 71, labelY: 865 },
  { label: '70 hPa', erai: erai70, era40: era40_70, jra: jra70, min: -1, max: 1, interval: 1, top: 986, height: 71, labelY: 998 }
];

var labelFont = 'Liberation Sans, Arial, sans-serif';

function pairs (start, values) {
  return values.map(function (v, i) { return [start + i * STEP, v]; });
}

var grids = [], xAxes = [], yAxes = [], series = [], texts = [];

function addPanel (p, side) {
  var k = grids.length;
  var isLeft = side === 'left';
  var start = isLeft ? LEFT_START : RIGHT_START;
  grids.push({ left: isLeft ? 68 : 805, width: isLeft ? 694 : 693, top: p.top, height: p.height });
  xAxes.push({
    gridIndex: k, type: 'value', min: start, max: isLeft ? LEFT_MAX : RIGHT_MAX, z: 3,
    axisLine: { onZero: true, lineStyle: { color: '#333', width: 1.2 } },
    axisTick: { show: false }, axisLabel: { show: false }, splitLine: { show: false }
  });
  yAxes.push({
    gridIndex: k, type: 'value', position: side, min: p.min, max: p.max, interval: p.interval,
    axisLine: { show: false },
    axisTick: { show: true, length: 5, lineStyle: { color: '#444' } },
    axisLabel: {
      fontSize: 20, color: '#222', fontFamily: labelFont,
      margin: isLeft ? 14 : 26, align: 'right'
    },
    splitLine: { show: false }
  });
  series.push({
    name: 'JRA-55', type: 'line', xAxisIndex: k, yAxisIndex: k, data: pairs(start, p.jra),
    symbol: 'none', clip: false, z: 1, silent: true,
    lineStyle: { color: '#c4c4c4', width: 0.8 },
    areaStyle: { color: '#c4c4c4', opacity: 1 }
  });
  series.push({
    name: 'ERA-40', type: 'line', xAxisIndex: k, yAxisIndex: k, data: pairs(start, p.era40),
    symbol: 'none', clip: false, z: 3, silent: true,
    lineStyle: { color: '#707070', width: 1.7, type: [2, 2] }
  });
  series.push({
    name: 'ERA-Interim', type: 'line', xAxisIndex: k, yAxisIndex: k, data: pairs(start, p.erai),
    symbol: 'none', clip: false, z: 4, silent: true,
    lineStyle: { color: '#151515', width: 2.4 }
  });
  texts.push({
    type: 'text', x: isLeft ? 550 : 1345, y: p.labelY, z: 10,
    style: { text: p.label, font: '22px ' + labelFont, fill: '#1a1a1a', textAlign: 'center', textVerticalAlign: 'middle' }
  });
}

leftPanels.forEach(function (p) { addPanel(p, 'left'); });
rightPanels.forEach(function (p) { addPanel(p, 'right'); });

// the two outer frames carry the year axis
function addFrame (left, width, min, max) {
  var k = grids.length;
  grids.push({ left: left, width: width, top: 73, height: 1007, show: true, borderColor: '#4d4d4d', borderWidth: 1.5, backgroundColor: 'transparent' });
  xAxes.push({
    gridIndex: k, type: 'value', min: min, max: max, position: 'bottom',
    axisLine: { show: false, onZero: false },
    axisTick: { show: true, customValues: yearTicks, length: 5, lineStyle: { color: '#444' } },
    axisLabel: {
      customValues: yearTicks, fontSize: 20, color: '#222', fontFamily: labelFont, margin: 10,
      formatter: function (v) { return String(Math.round(v)); }
    },
    splitLine: { show: false }
  });
  yAxes.push({ gridIndex: k, type: 'value', min: 0, max: 1, show: false });
}
addFrame(68, 694, LEFT_START, LEFT_MAX);
addFrame(805, 693, RIGHT_START, RIGHT_MAX);

var legendFont = 'Lato, "Open Sans", sans-serif';
var legendItems = [
  { type: 'rect', shape: { x: 138, y: 27, width: 85, height: 6 }, style: { fill: '#111', shadowBlur: 5, shadowOffsetY: 3, shadowColor: 'rgba(0,0,0,0.45)' } },
  { type: 'text', x: 240, y: 28, style: { text: 'ERA-Interim', font: 'bold 48px ' + legendFont, fill: '#000', textAlign: 'left', textVerticalAlign: 'middle' } },
  { type: 'rect', shape: { x: 665, y: 27, width: 83, height: 1.5 }, style: { fill: '#222' } },
  { type: 'text', x: 760, y: 28, style: { text: 'ERA-40', font: '46px ' + legendFont, fill: '#000', textAlign: 'left', textVerticalAlign: 'middle' } },
  { type: 'rect', shape: { x: 1135, y: 23, width: 87, height: 14 }, style: { fill: '#a9a9a9', shadowBlur: 5, shadowOffsetY: 3, shadowColor: 'rgba(0,0,0,0.3)' } },
  { type: 'text', x: 1237, y: 28, style: { text: 'JRA-55', font: '46px ' + legendFont, fill: '#000', textAlign: 'left', textVerticalAlign: 'middle' } }
];

var chart = echarts.init(document.getElementById('chart'), null, { renderer: 'canvas' });
chart.setOption({
  backgroundColor: '#fff',
  animation: false,
  grid: grids,
  xAxis: xAxes,
  yAxis: yAxes,
  series: series,
  graphic: { elements: legendItems.concat(texts) }
});
</script>
</body>
</html>
